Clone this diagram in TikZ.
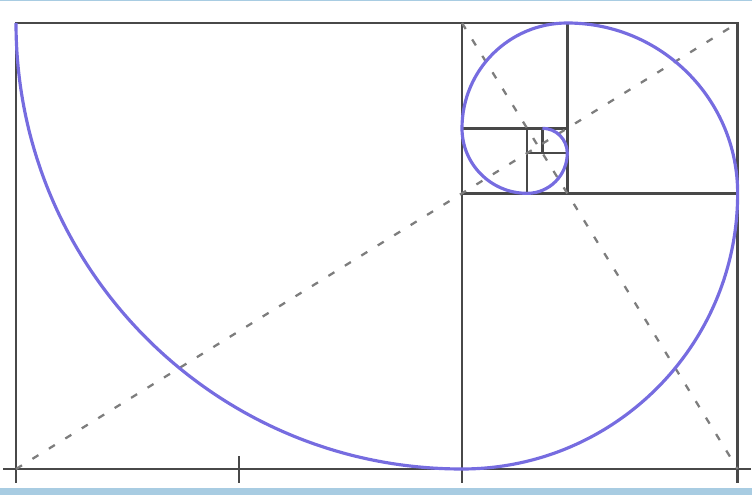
\documentclass[tikz,border=0pt]{standalone}
\usepackage{xcolor}
\usetikzlibrary{calc}
\definecolor{spiralblue}{RGB}{118,108,224}
\definecolor{framegray}{RGB}{72,72,72}
\definecolor{dashgray}{RGB}{125,125,125}
\definecolor{bandblue}{RGB}{168,204,226}

\begin{document}
\begin{tikzpicture}[edge/.style={line width=1.6pt,framegray},
  diag/.style={line width=1.3pt,dashgray,dash pattern=on 4pt off 7pt},
  spiral/.style={line width=1.8pt,spiralblue}]
\def\side{8.92}
\pgfmathsetmacro{\gold}{(1+sqrt(5))/2}
\pgfmathsetmacro{\wide}{\side*\gold}
\useasboundingbox (0,0) rectangle (15.04,9.9);
\fill[bandblue] (0,0) rectangle (15.04,0.14);
\fill[bandblue] (0,9.87) rectangle (15.04,9.9);

\coordinate (A) at (0.32,0.52);
\coordinate (B) at ($(A)+(\wide,0)$);
\coordinate (C) at ($(B)+(0,\side)$);
\coordinate (D) at ($(A)+(0,\side)$);
\coordinate (E) at ($(A)+(\side,0)$);
\coordinate (F) at ($(D)+(\side,0)$);
\coordinate (H) at ($(A)!0.5!(E)$);

% squares, each one cut off the rest
\coordinate (P0) at (D);
\foreach \k [evaluate=\k as \rad using {\side/(\gold^\k)},
             evaluate=\k as \ta using {180+90*\k}, count=\n from 1] in {0,...,6}{
  \coordinate (M\k) at ($(P\k)-(\ta:\rad)$);
  \coordinate (P\n) at ($(M\k)+(\ta+90:\rad)$);
  \draw[edge,line width=1.4pt] (M\k) -- (P\n);
}

\draw[edge] (A) -- (D) -- (C) -- (B);
\draw[edge] ($(A)+(-0.26,0)$) -- ($(B)+(0.26,0)$);
\foreach \t in {A,H,E,B}
  \draw[edge] ($(\t)+(0,0.26)$) -- ($(\t)+(0,-0.28)$);

\draw[diag] (A) -- (C);
\draw[diag] (F) -- (B);

\draw[spiral] (P0) \foreach \k in {0,...,6}{
  arc[start angle={180+90*\k}, end angle={270+90*\k}, radius={\side/(\gold^\k)}] };
\end{tikzpicture}
\end{document}
